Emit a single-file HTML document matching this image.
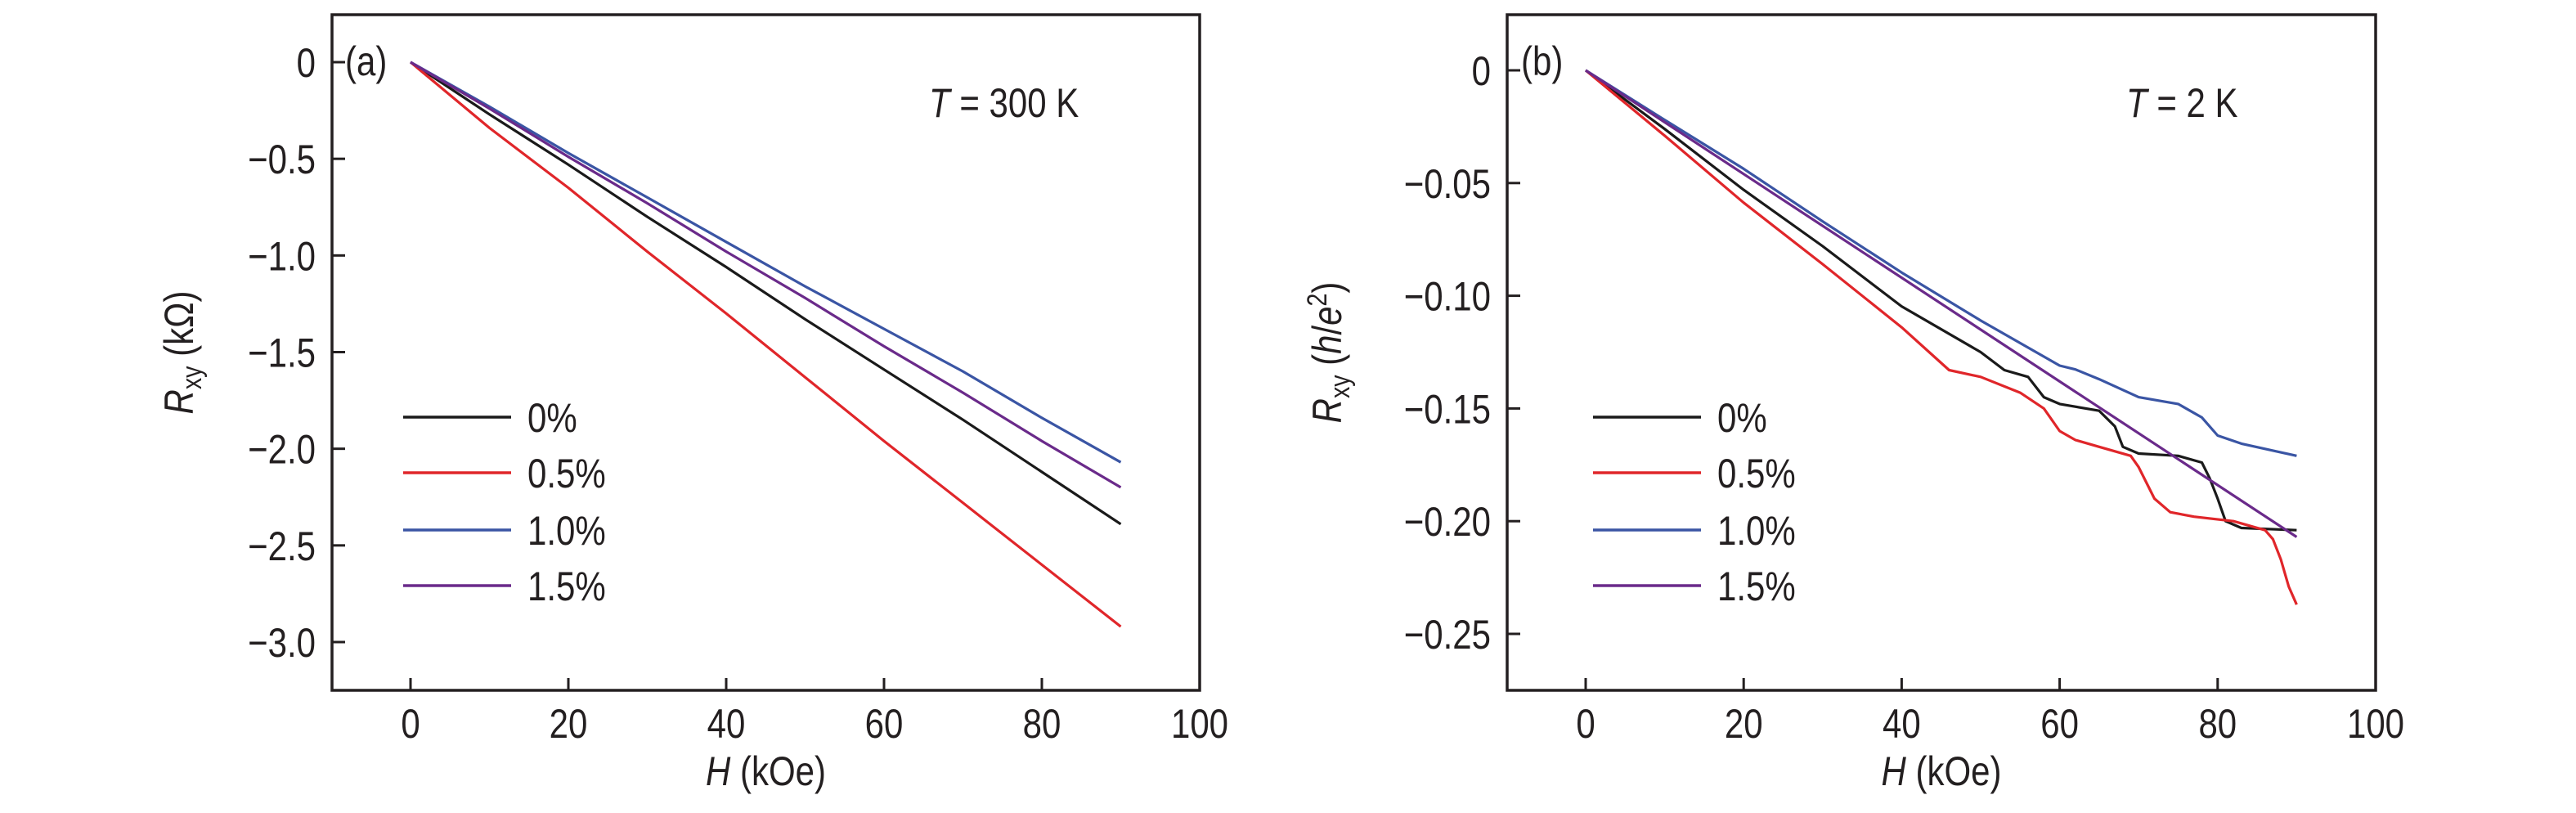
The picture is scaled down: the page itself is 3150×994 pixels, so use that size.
<!DOCTYPE html>
<html><head><meta charset="utf-8"><style>
html,body{margin:0;padding:0;background:#fff;}
svg{display:block;}
text{font-family:"Liberation Sans Narrow","Liberation Sans",sans-serif;fill:#231f20;}
</style></head><body>
<svg id="chart" width="3150" height="994" viewBox="0 0 3150 994" xmlns="http://www.w3.org/2000/svg"></svg>
<script>
const hValues = [0,10,20,30,40,50,60,70,80,90];
const seriesNames = ["0%","0.5%","1.0%","1.5%"];
const seriesColors = ["#1a1a1a","#e0262a","#3a55a4","#6a2a8a"];
const a0 = [0,-0.27,-0.53,-0.80,-1.06,-1.33,-1.59,-1.85,-2.12,-2.39];
const a05 = [0,-0.34,-0.65,-0.98,-1.30,-1.63,-1.96,-2.28,-2.60,-2.92];
const a10 = [0,-0.23,-0.47,-0.70,-0.93,-1.16,-1.38,-1.60,-1.84,-2.07];
const a15 = [0,-0.24,-0.49,-0.73,-0.98,-1.22,-1.47,-1.71,-1.96,-2.20];
const b0H = [0,10,20,30,40,50,53,56,58,60,65,67,68,70,75,78,79,80,81,83,90];
const b0 = [0,-0.026,-0.053,-0.078,-0.1047,-0.125,-0.133,-0.136,-0.145,-0.148,-0.151,-0.158,-0.167,-0.170,-0.171,-0.174,-0.181,-0.190,-0.200,-0.203,-0.204];
const b05H = [0,10,20,30,40,46,50,55,58,60,62,65,69,70,72,74,77,82,86,87,88,89,90];
const b05 = [0,-0.029,-0.0587,-0.086,-0.114,-0.133,-0.136,-0.143,-0.150,-0.160,-0.164,-0.167,-0.171,-0.176,-0.190,-0.196,-0.198,-0.200,-0.204,-0.208,-0.217,-0.229,-0.237];
const b10H = [0,10,20,30,40,50,60,62,65,70,75,78,80,83,90];
const b10 = [0,-0.022,-0.0437,-0.067,-0.0897,-0.111,-0.131,-0.1327,-0.137,-0.145,-0.148,-0.154,-0.162,-0.1656,-0.171];
const b15H = [0,90];
const b15 = [0,-0.207];
const xTicks = [0,20,40,60,80,100];
const yTicksA = [0,-0.5,-1.0,-1.5,-2.0,-2.5,-3.0];
const yLabelsA = ["0","\u22120.5","\u22121.0","\u22121.5","\u22122.0","\u22122.5","\u22123.0"];
const yTicksB = [0,-0.05,-0.10,-0.15,-0.20,-0.25];
const yLabelsB = ["0","\u22120.05","\u22120.10","\u22120.15","\u22120.20","\u22120.25"];

const NS="http://www.w3.org/2000/svg";
const svg=document.getElementById('chart');
const SX=0.84;
function mk(tag,attrs,parent){const e=document.createElementNS(NS,tag);for(const k in attrs)e.setAttribute(k,attrs[k]);(parent||svg).appendChild(e);return e;}
function txt(x,y,anchor,parent,extra){return mk('text',Object.assign({x:0,y:0,'font-size':50,'text-anchor':anchor,transform:'translate('+x+','+y+') scale('+SX+',1)'},extra||{}),parent);}

function panel(cfg){
  const g=mk('g',{});
  
  
  const L=cfg.left,R=cfg.right,T=18,B=844;
  const sx=v=>cfg.x0+(v)*(cfg.x100-cfg.x0)/100;
  const sy=v=>cfg.y0+(v/cfg.yRef)*(cfg.yRefPx-cfg.y0);
  const frame=mk('rect',{x:L,y:T,width:R-L,height:B-T,fill:'none',stroke:'#231f20','stroke-width':3.5},g);
  
  
  xTicks.forEach(t=>{
    const x=sx(t);
    const tk=mk('line',{x1:x,x2:x,y1:B,y2:B-15,stroke:'#231f20','stroke-width':3},g);
    
    
    const tx=txt(x,902,'middle',g);
    tx.textContent=t;
    
    
  });
  cfg.yTicks.forEach((t,i)=>{
    const y=sy(t);
    const tk=mk('line',{x1:L,x2:L+16,y1:y,y2:y,stroke:'#231f20','stroke-width':3},g);
    
    
    const tx=txt(L-20,y+18,'end',g);
    tx.textContent=cfg.yLabels[i];
    
    
  });
  cfg.series.forEach((s,i)=>{
    const d=s.h.map((h,j)=>(j?'L':'M')+sx(h).toFixed(1)+','+sy(s.v[j]).toFixed(1)).join(' ');
    const p=mk('path',{d:d,fill:'none',stroke:seriesColors[i],'stroke-width':3.2,'stroke-linejoin':'round'},g);
    
    
  });
  const rows=[510,578,648,716];
  seriesNames.forEach((n,i)=>{
    const ln=mk('line',{x1:cfg.legX,x2:cfg.legX+132,y1:rows[i],y2:rows[i],stroke:seriesColors[i],'stroke-width':3.5},g);
    
    
    const tx=txt(cfg.legX+152,rows[i]+18,'start',g);
    tx.textContent=n;
    
    
  });
  const pl=txt(cfg.tagX,92,'start',g);
  pl.textContent=cfg.tag;
  
  
  const tt=txt(cfg.tempX,143,'start',g);
  tt.innerHTML='<tspan font-style="italic">T</tspan> = '+cfg.temp;
  
  
  const xt=txt((L+R)/2,960,'middle',g);
  xt.innerHTML='<tspan font-style="italic">H</tspan> (kOe)';
  
  
  const yt=mk('text',{x:0,y:0,'font-size':50,'text-anchor':'middle',transform:'translate('+cfg.ytX+',431) rotate(-90) scale('+SX+',1)'},g);
  yt.innerHTML=cfg.yTitle;
  
  
}

panel({name:'panel-a',left:406,right:1467,x0:502,x100:1467,y0:76,yRef:-3.0,yRefPx:785,
  yTicks:yTicksA,yLabels:yLabelsA,legX:493,tagX:422,tempX:1136,temp:'300 K',tag:'(a)',ytX:236,
  yTitle:'<tspan font-style="italic">R</tspan><tspan font-size="34" dy="10">xy</tspan><tspan dy="-10"> (k\u03A9)</tspan>',
  series:[{h:hValues,v:a0},{h:hValues,v:a05},{h:hValues,v:a10},{h:hValues,v:a15}]});
panel({name:'panel-b',left:1843,right:2905,x0:1939,x100:2905,y0:86,yRef:-0.25,yRefPx:775,
  yTicks:yTicksB,yLabels:yLabelsB,legX:1948,tagX:1860,tempX:2600,temp:'2 K',tag:'(b)',ytX:1640,
  yTitle:'<tspan font-style="italic">R</tspan><tspan font-size="34" dy="10">xy</tspan><tspan dy="-10"> (</tspan><tspan font-style="italic">h</tspan>/<tspan font-style="italic">e</tspan><tspan font-size="34" dy="-18">2</tspan><tspan dy="18">)</tspan>',
  series:[{h:b0H,v:b0},{h:b05H,v:b05},{h:b10H,v:b10},{h:b15H,v:b15}]});
</script>
</body></html>
